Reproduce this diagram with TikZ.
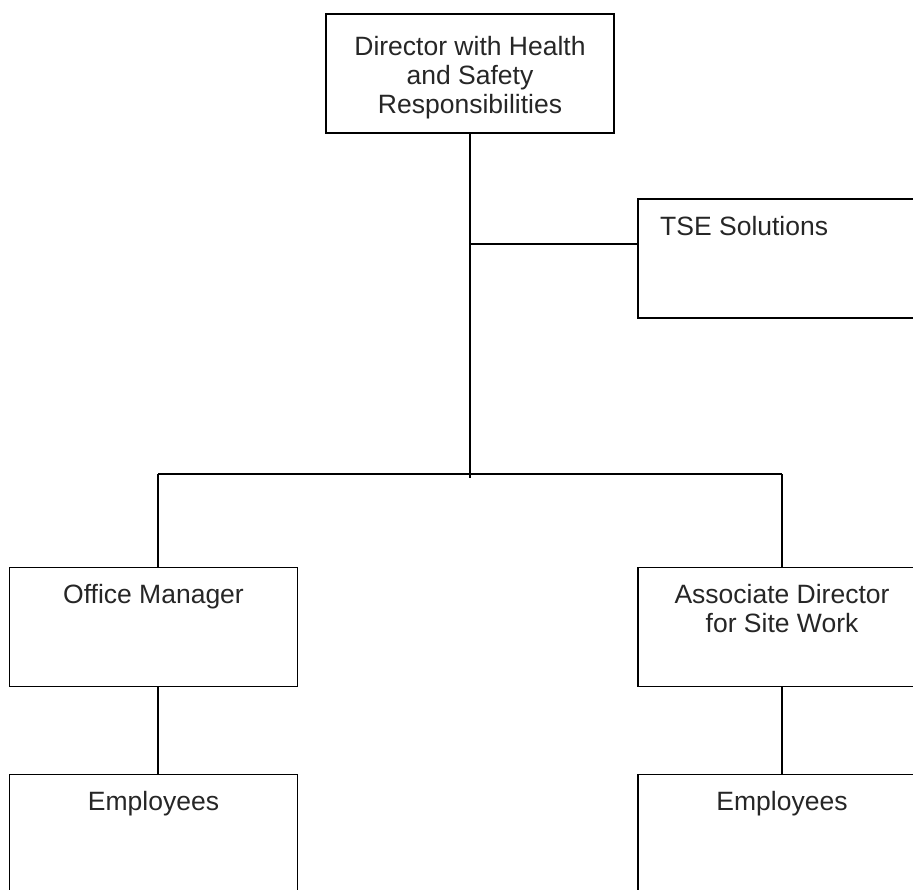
\documentclass[tikz,border=0pt]{standalone}
\usepackage{fontspec}
\setmainfont{Liberation Sans}
\usetikzlibrary{calc}
\begin{document}
\begin{tikzpicture}[x=1pt,y=-1pt,
  orgbox/.style={draw=black,line width=1.9pt,rectangle,minimum width=288pt,minimum height=119pt,inner sep=0pt},
  lbl/.style={text=black!85,inner sep=0pt,font=\fontsize{26.5}{29}\selectfont,align=center},
  conn/.style={draw=black,line width=1.9pt}]
\useasboundingbox (0,0) rectangle (913,889);
\clip (0,0) rectangle (913,889);
% boxes
\node[orgbox] (dir) at (470,73.5) {};
\node[orgbox] (tse) at (782,258.5) {};
\node[orgbox] (om) at (153.5,627) {};
\node[orgbox] (ad) at (782,627) {};
\node[orgbox] (em1) at (153.5,834) {};
\node[orgbox] (em2) at (782,834) {};
% texts (base = baseline of last line)
\node[lbl,anchor=base] (tdir) at (470,113) {Director with Health\\and Safety\\Responsibilities};
\node[lbl,anchor=base west] (ttse) at (660,235) {TSE Solutions};
\node[lbl,anchor=base] (tom) at (153.5,603) {Office Manager};
\node[lbl,anchor=base] (tad) at (782,632) {Associate Director\\for Site Work};
\node[lbl,anchor=base] (tem1) at (153.5,810) {Employees};
\node[lbl,anchor=base] (tem2) at (782,810) {Employees};
% coordinates
\coordinate (trunkend) at (470,478);
\coordinate (tsej) at (470,244);
\coordinate (busL) at (158,474);
\coordinate (busR) at (782,474);
% connectors
\draw[conn] (dir.south) -- (trunkend);
\draw[conn] (tsej) -- (tsej -| tse.west);
\draw[conn] (busL) -- (busR);
\draw[conn] (busL) -- (busL |- om.north);
\draw[conn] (busR) -- (ad.north);
\draw[conn] (om.south -| busL) -- (em1.north -| busL);
\draw[conn] (ad.south) -- (em2.north);
\end{tikzpicture}
\end{document}
